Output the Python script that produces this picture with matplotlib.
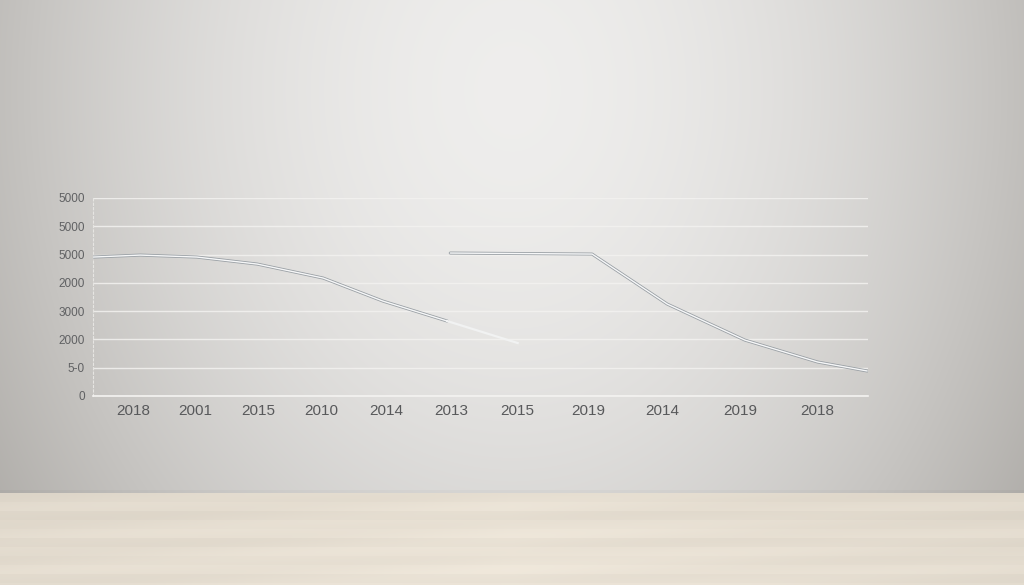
import numpy as np
import matplotlib
matplotlib.use("Agg")
import matplotlib.pyplot as plt

# ---- data ----
x_tick_pos = [5.2, 13.2, 21.3, 29.5, 37.8, 46.2, 54.7, 63.9, 73.5, 83.5, 93.5]
x_tick_labels = ["2018", "2001", "2015", "2010", "2014", "2013", "2015",
                 "2019", "2014", "2019", "2018"]
y_tick_pos = [0, 500, 1000, 1500, 2000, 2500, 3000, 3500]
y_tick_labels = ["0", "5-0", "2000", "3000", "2000", "5000", "5000", "5000"]

s1_x = [0.0, 6.1, 13.4, 21.2, 29.7, 37.4, 45.7]
s1_y = [2456, 2491, 2456, 2332, 2085, 1678, 1325]
s1_fade_x = [45.7, 54.8]
s1_fade_y = [1325, 936]

s2_x = [46.1, 64.4, 74.1, 84.1, 93.5, 99.9]
s2_y = [2527, 2509, 1625, 989, 601, 442]

W, H = 1024, 585
fig = plt.figure(figsize=(W / 100, H / 100), dpi=100)

# ---- background: wall with soft light, wooden floor ----
bg = fig.add_axes([0, 0, 1, 1], zorder=0)
bg.set_axis_off()
yy, xx = np.mgrid[0:H, 0:W]
d = np.sqrt(((xx - 512) / 600.0) ** 2 + ((yy - 90) / 760.0) ** 2)
wall_light = np.array([0.935, 0.932, 0.927])
wall_dark = np.array([0.70, 0.69, 0.675])
t = np.clip(d, 0, 1.1) ** 1.8
img = wall_light[None, None, :] * (1 - t[..., None]) + wall_dark[None, None, :] * t[..., None]
floor_top = 493
fl = yy >= floor_top
base_floor = np.array([0.905, 0.875, 0.825])
bands = np.array([0.0, 0.012, -0.008, 0.006, 0.015, -0.006, 0.01, 0.0, 0.012, -0.007, 0.006, 0.01])
band_idx = ((yy - floor_top) // 9) % len(bands)
shade = bands[band_idx] + 0.006 * np.sin(xx / 70.0 + yy / 5.0)
edge = 0.035 * (np.abs(xx - 512) / 512.0) - 0.02 * ((yy - floor_top) / 92.0)
floor_img = base_floor[None, None, :] + (shade - edge)[..., None]
img[fl] = floor_img[fl]
jun = (yy >= floor_top - 3) & (yy < floor_top)
img[jun] = img[jun] * 0.975
bg.imshow(np.clip(img, 0, 1), extent=[0, W, H, 0], aspect="auto", interpolation="bilinear")
bg.set_xlim(0, W)
bg.set_ylim(H, 0)

# ---- chart axes ----
left, right, top, bottom = 93, 868, 198, 396
ax = fig.add_axes([left / W, 1 - bottom / H, (right - left) / W, (bottom - top) / H], zorder=2)
ax.patch.set_alpha(0)
ax.set_xlim(0, 100)
ax.set_ylim(0, 3500)

for s in ["top", "right"]:
    ax.spines[s].set_visible(False)
ax.spines["left"].set_color("#e6e5e2")
ax.spines["left"].set_linestyle((0, (2, 2)))
ax.spines["left"].set_linewidth(0.8)
ax.spines["bottom"].set_color("#f4f3f1")
ax.spines["bottom"].set_linewidth(1.2)

ax.set_yticks(y_tick_pos)
ax.set_yticklabels(y_tick_labels)
ax.set_xticks(x_tick_pos)
ax.set_xticklabels(x_tick_labels)
ax.tick_params(axis="y", length=0, pad=6, labelsize=8.5, labelcolor="#606163")
ax.tick_params(axis="x", length=0, pad=6, labelsize=11, labelcolor="#58595b")
for lab in ax.get_xticklabels() + ax.get_yticklabels():
    lab.set_family(["Liberation Sans", "DejaVu Sans"])
ax.minorticks_off()

ax.grid(axis="y", color="#f3f2f0", linewidth=1.0, alpha=0.85)
ax.grid(axis="x", visible=False)
ax.set_axisbelow(True)

# series 1: shadowed light line
ax.plot(s1_x, s1_y, color="#9aa0a5", linewidth=2.2, solid_capstyle="round", zorder=3)
ax.plot(s1_x, s1_y, color="#f6f7f8", linewidth=1.0, solid_capstyle="round", zorder=4)
ax.plot(s1_fade_x, s1_fade_y, color="#f1f2f2", linewidth=1.6, zorder=3)

# series 2
ax.plot(s2_x, s2_y, color="#9aa0a5", linewidth=2.2, solid_capstyle="round", zorder=3)
ax.plot(s2_x, s2_y, color="#f6f7f8", linewidth=1.0, solid_capstyle="round", zorder=4)

fig.savefig("out.png", dpi=100)
